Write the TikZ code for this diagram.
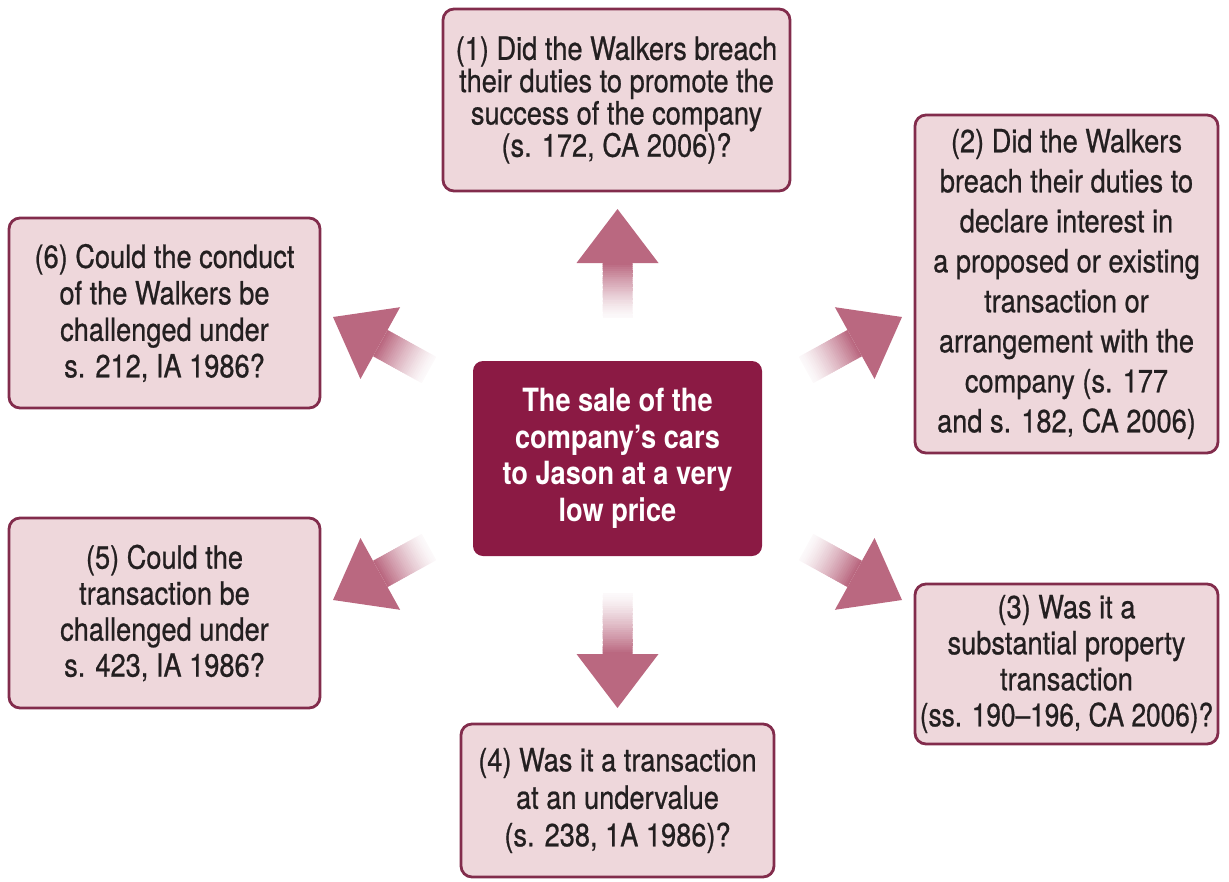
\documentclass[tikz,border=0pt]{standalone}
\usepackage{fontspec}
\usetikzlibrary{calc}
\newfontfamily\boxfont[FakeStretch=0.85,FakeBold=0.7]{TeX Gyre Heros}
\newfontfamily\narrowfont[FakeStretch=0.82,FakeBold=0.7]{TeX Gyre Heros}
\newfontfamily\hubfont[FakeStretch=0.85]{TeX Gyre Heros}

\definecolor{boxfill}{RGB}{238,215,219}
\definecolor{boxline}{RGB}{130,44,76}
\definecolor{hubfill}{RGB}{139,26,68}
\definecolor{arrowc}{RGB}{186,104,128}
\definecolor{txt}{RGB}{35,31,32}

% block arrow from tail #1 to tip #2, shaft fading out towards the tail
\newcommand\blockarrow[2]{%
  \coordinate (#1-base) at ($(#2)!54pt!(#1)$);
  \foreach \k in {0,...,27}{%
    \pgfmathsetmacro\fa{\k/28}
    \pgfmathsetmacro\fb{min(1,(\k+1.3)/28)}
    \pgfmathtruncatemacro\pc{4+96*(\k/27)^1.3}
    \fill[arrowc!\pc!white]
      ($(#1)!\fa!(#1-base)!15pt!90:(#2)$) -- ($(#1)!\fb!(#1-base)!15pt!90:(#2)$) --
      ($(#1)!\fb!(#1-base)!15pt!-90:(#2)$) -- ($(#1)!\fa!(#1-base)!15pt!-90:(#2)$) -- cycle;
  }
  \fill[arrowc] ($(#1-base)!41pt!90:(#2)$) -- (#2) -- ($(#1-base)!41pt!-90:(#2)$) -- cycle;
}

\tikzset{
  question/.style={draw=boxline, line width=2.8pt, fill=boxfill, rounded corners=11pt,
    align=center, text=txt, inner sep=0pt,
    font=\boxfont\fontsize{32}{#1}\selectfont},
  question/.default=37,
  hubbox/.style={fill=hubfill, rounded corners=10pt, align=center, text=white,
    inner sep=0pt, font=\hubfont\bfseries\fontsize{32}{36.6}\selectfont},
}

\begin{document}
\begin{tikzpicture}[x=1pt,y=-1pt]
\useasboundingbox (0,0) rectangle (1229,881);

% centre statement
\node[hubbox, minimum width=289, minimum height=195] (hub) at (617.5,458.5)
  {The sale of the\\company’s cars\\to Jason at a very\\low price};

% the six questions
\node[question=32.3, minimum width=347, minimum height=182] (q1) at (616.5,100)
  {(1) Did the Walkers breach\\their duties to promote the\\success of the company\\(s. 172, CA 2006)?};
\node[question=40, minimum width=303, minimum height=338] (q2) at (1066.5,284)
  {(2) Did the Walkers\\breach their duties to\\declare interest in\\a proposed or existing\\transaction or\\arrangement with the\\company (s. 177\\and s. 182, CA 2006)};
\node[question=36, minimum width=303, minimum height=160] (q3) at (1066.5,664)
  {(3) Was it a\\substantial property\\transaction\\{\narrowfont(ss. 190–196, CA 2006)?}};
\node[question=37.5, minimum width=313, minimum height=153] (q4) at (617.5,800.5)
  {(4) Was it a transaction\\at an undervalue\\(s. 238, 1A 1986)?};
\node[question=36, minimum width=311, minimum height=190] (q5) at (164.5,613)
  {(5) Could the\\transaction be\\challenged under\\s. 423, IA 1986?};
\node[question=36.5, minimum width=311, minimum height=190] (q6) at (164.5,313)
  {(6) Could the conduct\\of the Walkers be\\challenged under\\s. 212, IA 1986?};

% arrow ends around the centre statement
\coordinate (a1) at (617.5,318);  \coordinate (b1) at (617.5,209);
\coordinate (a2) at (806,370);    \coordinate (b2) at (902,317);
\coordinate (a3) at (806,547);    \coordinate (b3) at (902,600);
\coordinate (a4) at (617.5,593);  \coordinate (b4) at (617.5,708);
\coordinate (a5) at (429,547);    \coordinate (b5) at (333,600);
\coordinate (a6) at (429,370);    \coordinate (b6) at (333,317);

\blockarrow{a1}{b1}
\blockarrow{a2}{b2}
\blockarrow{a3}{b3}
\blockarrow{a4}{b4}
\blockarrow{a5}{b5}
\blockarrow{a6}{b6}
\end{tikzpicture}
\end{document}
